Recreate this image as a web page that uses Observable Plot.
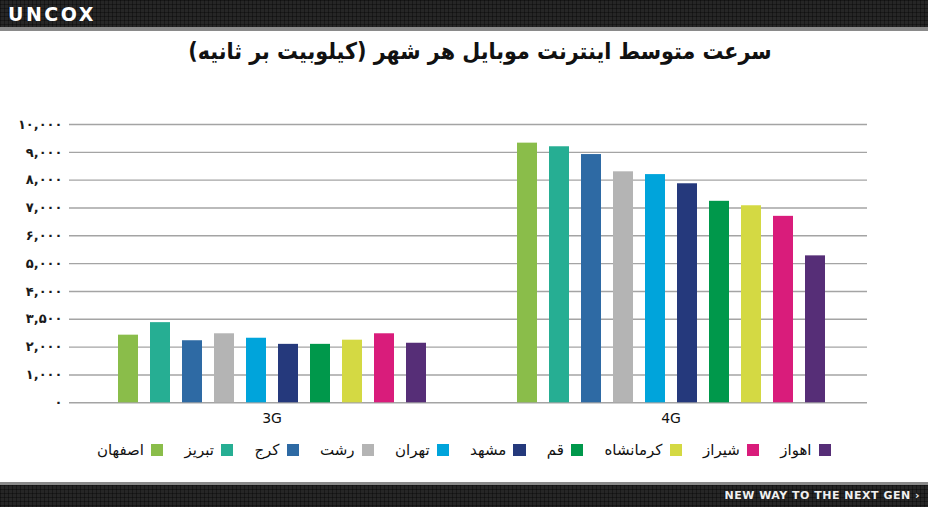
<!DOCTYPE html>
<html>
<head>
<meta charset="utf-8">
<script src="https://cdn.jsdelivr.net/npm/d3@7"></script>
<script src="https://cdn.jsdelivr.net/npm/@observablehq/plot@0.6"></script>
<style>
  html, body { margin: 0; padding: 0; background: #fff; width: 928px; height: 507px; overflow: hidden; position: relative; }
  .band {
    background-color: #262626;
    background-image:
      linear-gradient(90deg, rgba(0,0,0,0.35) 1px, transparent 1px),
      linear-gradient(rgba(0,0,0,0.35) 1px, transparent 1px);
    background-size: 4px 4px;
    background-position: 0 0;
  }
  #header { position: absolute; left: 0; top: 0; width: 928px; height: 27px; border-bottom: 4px solid #8a8a8a; }
  #logo { position: absolute; left: 8px; top: 3px; color: #fff; font: bold 19px "DejaVu Sans", sans-serif; letter-spacing: 2.5px; }
  #footer { position: absolute; left: 0; top: 482px; width: 928px; height: 22px; border-top: 3px solid #8a8a8a; }
  #tag { position: absolute; right: 8px; top: 4px; color: #f0f0f0; font: bold 11px "DejaVu Sans", sans-serif; letter-spacing: 0.5px; }
  #title { position: absolute; left: 16px; top: 38px; width: 928px; text-align: center; direction: rtl;
           font: bold 23px "DejaVu Sans Condensed", "DejaVu Sans", sans-serif; color: #111; }
  #chart { position: absolute; left: 0; top: 80px; }
  #legend { position: absolute; left: 0; top: 441px; width: 928px; display: flex; justify-content: center; gap: 21px;
            font: 15px "DejaVu Sans", sans-serif; color: #111; }
  .item { display: flex; align-items: center; gap: 7px; }
  .sw { width: 12.5px; height: 12.5px; display: inline-block; }
</style>
</head>
<body>
<div id="header" class="band"><div id="logo">UNCOX</div></div>
<div id="title">سرعت متوسط اینترنت موبایل هر شهر (کیلوبیت بر ثانیه)</div>
<div id="chart"></div>
<div id="legend"></div>
<div id="footer" class="band"><div id="tag">NEW WAY TO THE NEXT GEN ›</div></div>
<script>
const cities = ["اصفهان", "تبریز", "کرج", "رشت", "تهران", "مشهد", "قم", "کرمانشاه", "شیراز", "اهواز"];
const cityColors = ["#8abd4a", "#26ae93", "#2e6aa4", "#b4b4b4", "#00a4db", "#25397c", "#00984b", "#d4d943", "#d91c7b", "#562e77"];
const networks = ["3G", "4G"];
const speed3G = [2430, 2880, 2230, 2480, 2320, 2100, 2100, 2250, 2480, 2140];
const speed4G = [9330, 9200, 8920, 8300, 8200, 7870, 7240, 7080, 6700, 5280];
const yTickValues = [0, 1000, 2000, 3000, 4000, 5000, 6000, 7000, 8000, 9000, 10000];
const yTickLabels = ["۰", "۱,۰۰۰", "۲,۰۰۰", "۳,۵۰۰", "۴,۰۰۰", "۵,۰۰۰", "۶,۰۰۰", "۷,۰۰۰", "۸,۰۰۰", "۹,۰۰۰", "۱۰,۰۰۰"];

const seriesByNetwork = {"3G": speed3G, "4G": speed4G};
const rows = networks.flatMap(n => cities.map((c, i) => ({network: n, city: c, value: seriesByNetwork[n][i]})));
const labelOf = new Map(yTickValues.map((v, i) => [v, yTickLabels[i]]));

const chart = Plot.plot({
  width: 928,
  height: 350,
  marginTop: 44,
  marginBottom: 27.7,
  marginLeft: 72,
  marginRight: 58,
  style: {background: "transparent", fontFamily: "DejaVu Sans, sans-serif"},
  fx: {domain: networks, padding: 0, label: null},
  x: {domain: cities, paddingInner: 0.39, paddingOuter: 1.33, axis: null},
  y: {domain: [0, 10000], label: null},
  color: {domain: cities, range: cityColors},
  marks: [
    Plot.ruleY(yTickValues, {stroke: "#a4a4a4", strokeWidth: 1.4, insetLeft: -3, insetRight: 3}),
    Plot.barY(rows, {fx: "network", x: "city", y: "value", fill: "city"}),
    Plot.axisY(yTickValues, {tickSize: 0, tickPadding: 10, tickFormat: d => labelOf.get(d), fontSize: 13, fontWeight: "bold", fill: "#1a1a1a", label: null}),
    Plot.axisFx({anchor: "bottom", tickSize: 0, tickPadding: 10, fontSize: 14, fill: "#111", label: null})
  ]
});
document.getElementById("chart").appendChild(chart);

const legend = document.getElementById("legend");
cities.forEach((c, i) => {
  const item = document.createElement("div");
  item.className = "item";
  const t = document.createElement("span");
  t.textContent = c;
  const s = document.createElement("span");
  s.className = "sw";
  s.style.background = cityColors[i];
  item.appendChild(t);
  item.appendChild(s);
  legend.appendChild(item);
});
</script>
</body>
</html>
